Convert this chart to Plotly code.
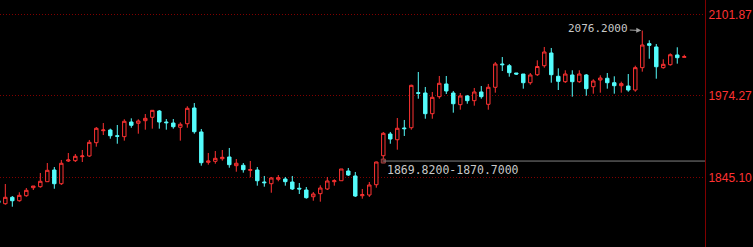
import plotly.graph_objects as go

opens = [
    1808.2, 1803.5, 1813.6, 1808.2, 1816.1, 1828.7, 1830.3, 1838.2, 1856.6, 1835.0,
    1870.8, 1871.3, 1877.6, 1878.7, 1899.6, 1918.5, 1919.6, 1910.6, 1909.1, 1932.2,
    1930.2, 1934.3, 1939.6, 1949.5, 1932.2, 1930.6, 1923.9, 1929.5, 1954.3, 1916.5,
    1868.7, 1870.3, 1874.4, 1877.1, 1863.4, 1864.0, 1856.1, 1856.6, 1837.7, 1835.0,
    1842.0, 1842.4, 1837.7, 1827.8, 1825.1, 1814.5, 1819.3, 1826.7, 1838.2, 1839.7,
    1855.0, 1847.2, 1816.1, 1817.2, 1833.4, 1879.1, 1913.3, 1904.3, 1922.8, 1923.2,
    1978.4, 1977.9, 1945.3, 1972.1, 1992.1, 1977.9, 1959.5, 1973.2, 1965.8, 1979.5,
    1960.1, 1986.9, 2023.6, 2020.9, 2009.4, 2007.8, 1994.1, 2006.7, 2020.9, 2040.9,
    2004.2, 1995.7, 2006.3, 1995.7, 2006.3, 1987.8, 1998.4, 2001.1, 1994.1, 1989.4,
    1988.9, 1982.6, 2017.8, 2055.6, 2050.4, 2017.8, 2022.5, 2037.8, 2034.1,
]
highs = [
    1809.3, 1834.5, 1815.6, 1821.5, 1828.2, 1831.4, 1851.9, 1867.6, 1861.3, 1872.4,
    1883.4, 1881.8, 1888.1, 1903.9, 1924.3, 1930.6, 1921.7, 1927.5, 1936.5, 1938.0,
    1936.5, 1944.8, 1951.1, 1951.1, 1936.9, 1936.9, 1931.7, 1957.0, 1962.1, 1921.2,
    1883.4, 1886.5, 1888.1, 1891.3, 1873.9, 1867.6, 1870.8, 1861.3, 1847.2, 1845.6,
    1848.7, 1845.6, 1847.2, 1836.1, 1829.8, 1821.9, 1832.5, 1845.6, 1842.0, 1858.2,
    1859.8, 1853.5, 1826.7, 1837.7, 1869.82, 1916.5, 1916.5, 1938.5, 1935.4, 1991.0,
    2011.0, 1987.4, 1979.5, 2004.7, 2004.7, 1981.1, 1977.9, 1974.8, 1985.8, 1988.9,
    1992.1, 2026.7, 2034.6, 2023.6, 2009.4, 2007.8, 2009.4, 2029.4, 2050.4, 2048.8,
    2016.8, 2013.7, 2013.7, 2013.7, 2007.8, 1999.5, 2005.8, 2009.4, 2004.2, 1995.7,
    2007.8, 2020.9, 2076.2, 2060.9, 2055.1, 2031.0, 2040.4, 2049.9, 2038.2,
]
lows = [
    1804.1, 1801.9, 1798.8, 1806.7, 1814.5, 1825.1, 1828.7, 1838.2, 1827.1, 1833.0,
    1869.2, 1869.2, 1869.2, 1877.1, 1893.3, 1911.7, 1905.9, 1898.0, 1902.8, 1923.2,
    1913.8, 1920.1, 1921.7, 1921.7, 1920.1, 1921.7, 1902.8, 1923.2, 1913.8, 1863.4,
    1865.0, 1866.5, 1871.3, 1860.2, 1853.9, 1852.4, 1845.1, 1831.9, 1830.3, 1820.8,
    1838.8, 1831.9, 1825.1, 1818.8, 1811.4, 1808.2, 1806.7, 1825.1, 1831.9, 1839.7,
    1847.2, 1814.1, 1811.4, 1814.1, 1828.7, 1870.7, 1898.0, 1888.6, 1910.2, 1920.1,
    1968.9, 1937.4, 1937.4, 1968.9, 1976.3, 1946.9, 1951.6, 1961.0, 1957.9, 1968.9,
    1951.6, 1978.4, 2012.6, 2003.6, 2006.3, 1984.7, 1991.0, 2004.7, 2017.8, 1994.1,
    1982.6, 1993.7, 1972.1, 1993.7, 1973.6, 1976.8, 1978.4, 1984.7, 1976.8, 1978.4,
    1979.9, 1979.9, 2011.5, 2031.9, 2000.4, 2016.2, 2020.9, 2024.1, 2034.1,
]
closes = [
    1805.1, 1813.6, 1808.2, 1816.7, 1824.6, 1831.4, 1838.8, 1856.1, 1835.0, 1867.2,
    1872.4, 1878.2, 1878.7, 1900.2, 1922.3, 1919.6, 1910.6, 1909.7, 1933.3, 1927.0,
    1933.8, 1938.0, 1950.6, 1932.2, 1931.1, 1924.8, 1928.6, 1953.8, 1916.9, 1868.1,
    1870.8, 1875.0, 1876.6, 1865.0, 1867.2, 1857.1, 1857.1, 1839.7, 1836.6, 1844.0,
    1844.5, 1838.2, 1826.7, 1826.7, 1813.0, 1818.8, 1828.2, 1839.3, 1839.7, 1858.2,
    1848.7, 1815.6, 1817.7, 1833.0, 1869.2, 1914.4, 1905.4, 1922.3, 1921.7, 1990.0,
    1977.4, 1945.3, 1971.1, 1993.2, 1981.1, 1961.0, 1973.2, 1965.8, 1979.5, 1972.1,
    1986.9, 2023.6, 2022.5, 2009.9, 2007.8, 1994.1, 2006.3, 2019.6, 2042.5, 2006.7,
    1996.3, 2007.8, 1995.7, 2007.8, 1984.7, 1996.8, 2001.5, 1994.1, 1989.4, 1992.6,
    1982.6, 2017.8, 2053.5, 2053.0, 2019.3, 2023.1, 2038.2, 2033.5, 2035.1,
]
xs = list(range(len(opens)))

tick_vals = [1845.10, 1974.27, 2101.87]
tick_text = ["1845.10", "1974.27", "2101.87"]

peak_idx, peak_val, peak_label = 92, 2076.2, "2076.2000"
gap_idx, gap_val, gap_label = 55, 1870.7, "1869.8200-1870.7000"

RED = "#FF3232"
CYAN = "#54FCFC"
DARKRED = "#800000"

x_range = [0.24, 100.96]
y_range = [1735.3, 2124.4]

fig = go.Figure()
fig.add_trace(go.Candlestick(
    x=xs, open=opens, high=highs, low=lows, close=closes,
    increasing=dict(line=dict(color=RED, width=1), fillcolor="#000000"),
    decreasing=dict(line=dict(color=CYAN, width=1), fillcolor=CYAN),
    whiskerwidth=0, hoverinfo="skip", showlegend=False,
))
fig.add_trace(go.Scatter(
    x=[gap_idx], y=[gap_val], mode="markers",
    marker=dict(symbol="square", size=4, color="#5a2020", line=dict(color="#a04040", width=1)),
    hoverinfo="skip", showlegend=False,
))

fig.add_shape(type="line", xref="x", yref="y", x0=gap_idx, x1=x_range[1],
              y0=gap_val, y1=gap_val, line=dict(color="#808080", width=1))

fig.add_annotation(x=peak_idx, y=peak_val, text=peak_label, showarrow=True,
                   ax=-44, ay=-2, arrowhead=2, arrowsize=1, arrowwidth=1,
                   arrowcolor="#a0a0a0", standoff=1,
                   font=dict(family="DejaVu Sans Mono", size=11, color="#c8c8c8"))
fig.add_annotation(x=gap_idx, y=gap_val, text=gap_label, showarrow=False,
                   xanchor="left", yanchor="top", xshift=2, yshift=0,
                   font=dict(family="DejaVu Sans Mono", size=11.5, color="#c8c8c8"))

fig.update_layout(
    width=753, height=247,
    margin=dict(l=0, r=48, t=0, b=0),
    paper_bgcolor="#000000", plot_bgcolor="#000000",
    xaxis=dict(range=x_range, visible=False, rangeslider=dict(visible=False),
               showgrid=False, zeroline=False, fixedrange=True),
    yaxis=dict(range=y_range, side="right", tickvals=tick_vals, ticktext=tick_text,
               showgrid=True, gridcolor=DARKRED, gridwidth=1, griddash="1px,2px",
               zeroline=False, showline=True, linecolor=DARKRED, linewidth=1,
               ticks="", tickfont=dict(family="Liberation Sans, Arial", size=12, color=RED),
               fixedrange=True),
    hovermode=False,
)

fig.write_html("out.html")
